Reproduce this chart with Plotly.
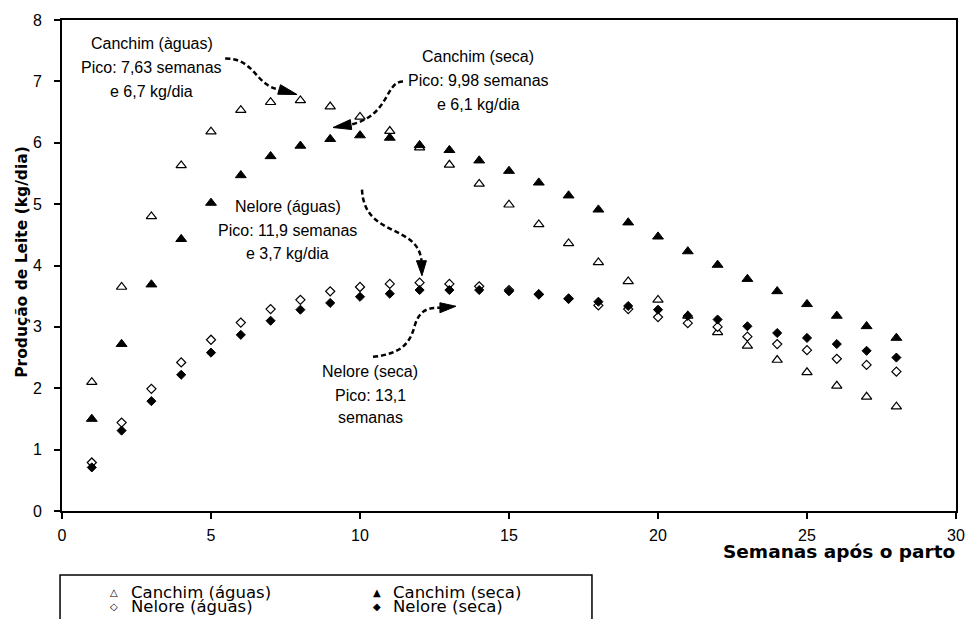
import plotly.graph_objects as go

# ---------------- data ----------------
weeks = list(range(1, 29))
canchim_aguas = [2.10, 3.65, 4.80, 5.63, 6.18, 6.53, 6.66, 6.69, 6.59, 6.42, 6.19, 5.92, 5.64, 5.33,
                 4.99, 4.67, 4.36, 4.05, 3.74, 3.44, 3.18, 2.91, 2.69, 2.46, 2.26, 2.04, 1.86, 1.70]
canchim_seca = [1.50, 2.72, 3.69, 4.43, 5.02, 5.47, 5.78, 5.95, 6.06, 6.12, 6.08, 5.96, 5.88, 5.71,
                5.54, 5.35, 5.14, 4.91, 4.70, 4.47, 4.23, 4.01, 3.78, 3.58, 3.37, 3.18, 3.01, 2.82]
nelore_aguas = [0.79, 1.44, 1.99, 2.42, 2.79, 3.07, 3.29, 3.44, 3.58, 3.65, 3.70, 3.72, 3.70, 3.66,
                3.60, 3.53, 3.46, 3.35, 3.29, 3.16, 3.06, 3.00, 2.84, 2.72, 2.62, 2.48, 2.38, 2.27]
nelore_seca = [0.71, 1.31, 1.79, 2.22, 2.58, 2.87, 3.10, 3.28, 3.39, 3.49, 3.54, 3.60, 3.60, 3.60,
               3.58, 3.53, 3.46, 3.41, 3.34, 3.28, 3.18, 3.12, 3.01, 2.90, 2.82, 2.72, 2.61, 2.50]

series_names = ["Canchim (águas)", "Canchim (seca)", "Nelore (águas)", "Nelore (seca)"]
legend_glyphs = ["△", "▲", "◇", "◆"]

x_title = "Semanas após o parto"
y_title = "Produção de Leite (kg/dia)"

x_ticks = [0, 5, 10, 15, 20, 25, 30]
y_ticks = [0, 1, 2, 3, 4, 5, 6, 7, 8]

# peak annotation texts (one list per block)
note_canchim_aguas = ["Canchim (àguas)", "Pico: 7,63 semanas", "e 6,7 kg/dia"]
note_canchim_seca = ["Canchim (seca)", "Pico: 9,98 semanas", "e 6,1 kg/dia"]
note_nelore_aguas = ["Nelore (águas)", "Pico: 11,9 semanas", "e 3,7 kg/dia"]
note_nelore_seca = ["Nelore (seca)", "Pico: 13,1", "semanas"]

# ---------------- figure ----------------
SANS = "Liberation Sans, Arial, sans-serif"
WIDE = "DejaVu Sans, Verdana, sans-serif"

fig = go.Figure()

styles = [
    dict(symbol="triangle-up", size=9, color="white", line=dict(color="black", width=1.2)),
    dict(symbol="triangle-up", size=9.5, color="black", line=dict(color="black", width=1)),
    dict(symbol="diamond", size=7, color="white", line=dict(color="black", width=1.2)),
    dict(symbol="diamond", size=7, color="black", line=dict(color="black", width=1)),
]
for name, vals, st in zip(series_names,
                          [canchim_aguas, canchim_seca, nelore_aguas, nelore_seca], styles):
    fig.add_trace(go.Scatter(x=weeks, y=vals, mode="markers", name=name,
                             marker=st, showlegend=False, hoverinfo="x+y+name"))

# ---------------- text annotations ----------------
annotations = []

def block(lines, xc, ys):
    for t, yy in zip(lines, ys):
        annotations.append(dict(x=xc, y=yy, xref="x", yref="y", text=t, showarrow=False,
                                xanchor="center", yanchor="middle",
                                font=dict(family=SANS, size=16, color="black")))

block(note_canchim_aguas, 3.01, [7.62, 7.23, 6.84])
block(note_canchim_seca, 13.96, [7.41, 7.02, 6.62])
block(note_nelore_aguas, 7.57, [4.96, 4.57, 4.20])
block(note_nelore_seca, 10.34, [2.27, 1.89, 1.52])

# axis titles
annotations.append(dict(x=1.0011, y=-0.0815, xref="paper", yref="paper", text=x_title,
                        showarrow=False, xanchor="right", yanchor="middle",
                        font=dict(family=WIDE, size=18.5, color="black", weight="bold")))
annotations.append(dict(x=-0.0447, y=0.5076, xref="paper", yref="paper", text=y_title,
                        showarrow=False, xanchor="center", yanchor="middle", textangle=-90,
                        font=dict(family=WIDE, size=15.5, color="black", weight="bold")))

# legend (manual, two columns)
leg_x_sym = [0.0582, 0.3523, 0.0582, 0.3523]
leg_x_txt = [0.0749, 0.3680, 0.0749, 0.3680]
leg_y = [-0.1650, -0.1650, -0.1955, -0.1955]
for g, name, xs, xt, yy in zip(legend_glyphs, series_names, leg_x_sym, leg_x_txt, leg_y):
    annotations.append(dict(x=xs, y=yy, xref="paper", yref="paper", text=g, showarrow=False,
                            xanchor="center", yanchor="middle",
                            font=dict(family=WIDE, size=10, color="black")))
    annotations.append(dict(x=xt, y=yy, xref="paper", yref="paper", text=name, showarrow=False,
                            xanchor="left", yanchor="middle",
                            font=dict(family=WIDE, size=16.5, color="black")))

# ---------------- dashed curved arrows ----------------
dash_line = dict(color="black", width=2.5, dash="5px,3px")
head = dict(color="black", width=1)
shapes = [
    # Canchim (águas)
    dict(type="path", xref="x", yref="y", line=dash_line,
         path="M 5.474,7.374 C 6.480,7.374 6.480,6.933 7.285,6.868"),
    dict(type="path", xref="x", yref="y", line=head, fillcolor="black",
         path="M 7.888,6.786 L 7.238,6.790 L 7.332,6.946 Z"),
    # Canchim (seca)
    dict(type="path", xref="x", yref="y", line=dash_line,
         path="M 11.442,6.998 C 10.838,6.998 11.006,6.444 9.698,6.297"),
    dict(type="path", xref="x", yref="y", line=head, fillcolor="black",
         path="M 9.095,6.248 L 9.675,6.377 L 9.722,6.215 Z"),
    # Nelore (águas)
    dict(type="path", xref="x", yref="y", line=dash_line,
         path="M 10.067,5.237 C 10.134,4.454 11.944,4.682 12.062,4.078"),
    dict(type="path", xref="x", yref="y", line=head, fillcolor="black",
         path="M 12.079,3.834 L 11.894,4.078 L 12.229,4.078 Z"),
    # Nelore (seca)
    dict(type="path", xref="x", yref="y", line=dash_line,
         path="M 10.436,2.512 C 11.341,2.561 11.676,2.708 11.844,3.034 "
              "C 12.011,3.279 12.280,3.312 12.682,3.312"),
    dict(type="path", xref="x", yref="y", line=head, fillcolor="black",
         path="M 13.218,3.336 L 12.682,3.393 L 12.682,3.230 Z"),
    # legend frame
    dict(type="rect", xref="paper", yref="paper", x0=-0.0022, x1=0.5928, y0=-0.1303, y1=-0.30,
         line=dict(color="black", width=1.5), fillcolor="rgba(0,0,0,0)"),
]

axis_common = dict(showline=True, linewidth=2, linecolor="black", mirror=True,
                   ticks="outside", ticklen=6, tickwidth=1.5, tickcolor="black",
                   showgrid=False, zeroline=False, automargin=False,
                   tickfont=dict(family=SANS, size=16, color="black"))

fig.update_layout(
    width=967, height=619,
    margin=dict(l=62, r=11, t=20, b=108, autoexpand=False),
    paper_bgcolor="white", plot_bgcolor="white",
    showlegend=False,
    annotations=annotations,
    shapes=shapes,
    xaxis=dict(range=[0, 30], tickmode="array", tickvals=x_ticks,
               ticklabelstandoff=3, **axis_common),
    yaxis=dict(range=[0, 8], tickmode="array", tickvals=y_ticks,
               ticklabelstandoff=9, **axis_common),
)

fig.write_html("out.html",
               config={"displayModeBar": False},
               post_script="document.body.style.margin='0px';"
                           "document.body.style.overflow='hidden';")
